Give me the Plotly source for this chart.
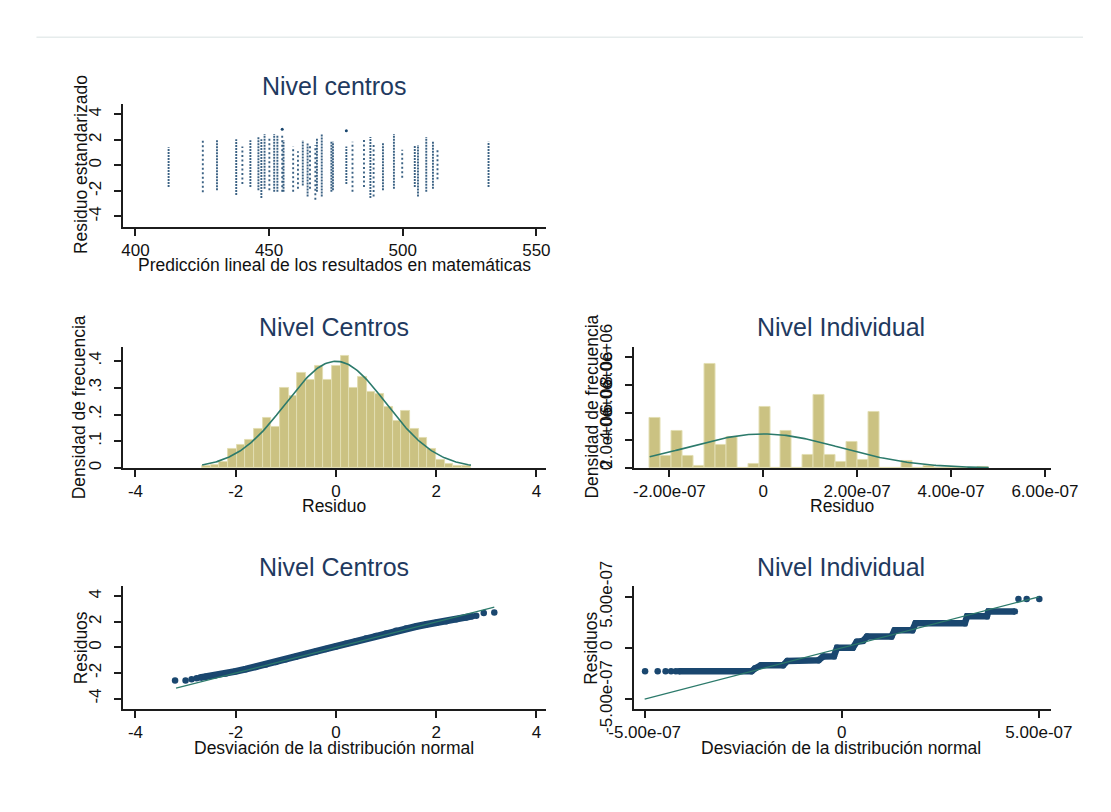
import math
import plotly.graph_objects as go

# ---------------- data ----------------
# Nivel centros: predicted math score of each school column and the span of its standardized residuals
dense_pred = [412.4, 430.5, 437.7, 443.0, 446.0, 447.1, 448.3, 451.9, 453.1, 455.4, 462.6, 464.4,
              467.9, 469.7, 473.3, 473.9, 478.9, 487.9, 492.6, 496.7, 504.5, 505.7, 508.8, 511.3, 532.1]
dense_lo = [-1.70, -1.95, -2.31, -1.70, -1.95, -2.55, -1.82, -2.07, -2.07, -2.07, -1.58, -2.43,
            -2.07, -2.43, -2.07, -1.95, -1.46, -2.55, -1.95, -1.82, -1.70, -2.43, -2.07, -1.82, -1.70]
dense_hi = [1.41, 2.04, 2.04, 1.97, 2.21, 2.04, 2.45, 2.45, 2.33, 1.97, 1.97, 1.72,
            2.09, 2.46, 1.85, 1.85, 1.48, 2.21, 1.72, 2.46, 1.60, 1.60, 2.21, 1.85, 1.85]
sparse_pred = [425.2, 440.0, 450.1, 454.9, 459.0, 460.8, 465.3, 467.3, 481.2, 485.5, 489.1, 499.8, 513.0]
sparse_lo = [-2.11, -1.46, -1.95, -2.07, -2.07, -1.82, -1.82, -2.68, -2.07, -1.70, -2.43, -0.97, -1.09]
sparse_hi = [2.04, 1.48, 2.21, 2.35, 1.48, 1.11, 1.60, 1.60, 1.85, 2.09, 1.60, 1.23, 1.36]
outlier_pred = [454.9, 478.9]
outlier_res = [2.83, 2.70]

# Nivel Centros: histogram of residuals (density per bin)
centros_bin_start = -2.67
centros_bin_width = 0.173
centros_density = [0.006, 0.012, 0.024, 0.071, 0.088, 0.106, 0.147, 0.189, 0.153, 0.301,
                   0.271, 0.354, 0.330, 0.383, 0.330, 0.383, 0.419, 0.301, 0.342, 0.283,
                   0.277, 0.230, 0.177, 0.212, 0.147, 0.112, 0.071, 0.030, 0.014, 0.006, 0.006]
centros_mean, centros_sd = 0.0, 1.0

# Nivel Individual: histogram of residuals (density per bin)
indiv_bin_start = -2.42e-7
indiv_bin_width = 2.33e-8
indiv_density = [3.59e6, 0.86e6, 2.68e6, 0.86e6, 0.18e6, 7.50e6, 1.66e6, 2.23e6, 0.0, 0.27e6,
                 4.39e6, 0.0, 2.68e6, 0.0, 0.98e6, 5.30e6, 0.98e6, 0.41e6, 1.89e6, 0.59e6,
                 4.05e6, 0.0, 0.0, 0.48e6, 0.0, 0.14e6, 0.0, 0.0, 0.0, 0.0, 0.07e6]
indiv_mean, indiv_sd = 0.0, 1.62e-7

# Nivel Centros: normal quantile plot
qq_c_tail_z = [-3.21, -3.00, -2.88, -2.78, 2.80, 2.95, 3.16]
qq_c_tail_res = [-2.58, -2.58, -2.48, -2.41, 2.48, 2.70, 2.73]
qq_c_z = [-2.71, -2.6, -2.4, -2.2, -2.0, -1.8, -1.6, -1.4, -1.2, -1.0, -0.8, -0.6, -0.4, -0.2,
          0.0, 0.2, 0.4, 0.6, 0.8, 1.0, 1.2, 1.4, 1.6, 1.8, 2.0, 2.2, 2.4, 2.6, 2.72]
qq_c_res = [-2.36, -2.30, -2.18, -2.03, -1.87, -1.70, -1.52, -1.34, -1.14, -0.93, -0.73, -0.52,
            -0.32, -0.12, 0.08, 0.29, 0.49, 0.70, 0.90, 1.10, 1.30, 1.48, 1.64, 1.80, 1.93,
            2.06, 2.20, 2.35, 2.45]
qq_c_ref = [-3.19, 3.16]

# Nivel Individual: normal quantile plot (values in units of 1e-7)
qq_i_tail_z = [-4.99, -4.67, -4.47, -4.33, -4.21, 4.48, 4.69, 5.01]
qq_i_tail_res = [-2.28, -2.28, -2.28, -2.28, -2.28, 4.78, 4.78, 4.78]
qq_i_z = [-4.13, -2.29, -2.20, -2.05, -1.49, -1.38, -0.59, -0.47, -0.20, -0.12, 0.28, 0.38,
          0.54, 0.64, 1.26, 1.34, 1.79, 1.87, 3.12, 3.18, 3.68, 3.72, 4.39]
qq_i_res = [-2.28, -2.28, -2.00, -1.70, -1.70, -1.27, -1.21, -0.84, -0.81, 0.02, 0.02, 0.60,
            0.69, 1.12, 1.12, 1.73, 1.73, 2.40, 2.40, 3.10, 3.10, 3.56, 3.56]
qq_i_ref = [-5.0, 5.0]
QQ_I_UNIT = 1e-7

# ---------------- styling ----------------
W, H = 1111, 812
FONT = "Liberation Sans, Arial, sans-serif"
NAVY = "#1a476f"
TEAL = "#2c7a6b"
KHAKI = "#cbc282"
KHAKI_EDGE = "#e2deb2"
AXIS = "#1c1c1c"
TITLE = "#1f3a60"


def px_x(p):
    return p / W


def px_y(p):
    return 1 - p / H


def normal_curve(mean, sd, lo, hi, n=200):
    xs = [lo + (hi - lo) * i / (n - 1) for i in range(n)]
    ys = [math.exp(-0.5 * ((x - mean) / sd) ** 2) / (sd * math.sqrt(2 * math.pi)) for x in xs]
    return xs, ys


def stripes(pred, lo, hi):
    xs, ys = [], []
    for p, a, b in zip(pred, lo, hi):
        xs += [p, p, None]
        ys += [a, b, None]
    return xs, ys


fig = go.Figure()

# top: residual columns per school
sx, sy = stripes(dense_pred, dense_lo, dense_hi)
fig.add_trace(go.Scatter(x=sx, y=sy, mode="lines", xaxis="x", yaxis="y",
                         line=dict(color=NAVY, width=1.9, dash="2px,1px"), opacity=0.85))
sx, sy = stripes(sparse_pred, sparse_lo, sparse_hi)
fig.add_trace(go.Scatter(x=sx, y=sy, mode="lines", xaxis="x", yaxis="y",
                         line=dict(color=NAVY, width=1.9, dash="2px,2.5px"), opacity=0.85))
fig.add_trace(go.Scatter(x=outlier_pred, y=outlier_res, mode="markers", xaxis="x", yaxis="y",
                         marker=dict(color=NAVY, size=3)))

# middle left: histogram + normal density
c_centers = [centros_bin_start + (i + 0.5) * centros_bin_width for i in range(len(centros_density))]
fig.add_trace(go.Bar(x=c_centers, y=centros_density, width=centros_bin_width, xaxis="x2", yaxis="y2",
                     marker=dict(color=KHAKI, line=dict(color=KHAKI_EDGE, width=1))))
c_end = centros_bin_start + centros_bin_width * len(centros_density)
nx, ny = normal_curve(centros_mean, centros_sd, centros_bin_start, c_end)
fig.add_trace(go.Scatter(x=nx, y=ny, mode="lines", xaxis="x2", yaxis="y2",
                         line=dict(color=TEAL, width=1.6)))

# middle right: histogram + normal density
i_centers = [indiv_bin_start + (i + 0.5) * indiv_bin_width for i in range(len(indiv_density))]
fig.add_trace(go.Bar(x=i_centers, y=indiv_density, width=indiv_bin_width, xaxis="x3", yaxis="y3",
                     marker=dict(color=KHAKI, line=dict(color=KHAKI_EDGE, width=1))))
i_end = indiv_bin_start + indiv_bin_width * len(indiv_density)
nx, ny = normal_curve(indiv_mean, indiv_sd, indiv_bin_start, i_end)
fig.add_trace(go.Scatter(x=nx, y=ny, mode="lines", xaxis="x3", yaxis="y3",
                         line=dict(color=TEAL, width=1.6)))

# bottom left: normal quantile plot
fig.add_trace(go.Scatter(x=qq_c_z, y=qq_c_res, mode="lines+markers", xaxis="x4", yaxis="y4",
                         line=dict(color=NAVY, width=7), marker=dict(color=NAVY, size=6.5)))
fig.add_trace(go.Scatter(x=qq_c_tail_z, y=qq_c_tail_res, mode="markers", xaxis="x4", yaxis="y4",
                         marker=dict(color=NAVY, size=6.5)))
fig.add_trace(go.Scatter(x=qq_c_ref, y=qq_c_ref, mode="lines", xaxis="x4", yaxis="y4",
                         line=dict(color=TEAL, width=1.3)))

# bottom right: normal quantile plot
fig.add_trace(go.Scatter(x=[v * QQ_I_UNIT for v in qq_i_z], y=[v * QQ_I_UNIT for v in qq_i_res],
                         mode="lines+markers", xaxis="x5", yaxis="y5",
                         line=dict(color=NAVY, width=6.5), marker=dict(color=NAVY, size=6.5)))
fig.add_trace(go.Scatter(x=[v * QQ_I_UNIT for v in qq_i_tail_z], y=[v * QQ_I_UNIT for v in qq_i_tail_res],
                         mode="markers", xaxis="x5", yaxis="y5", marker=dict(color=NAVY, size=6.5)))
fig.add_trace(go.Scatter(x=[v * QQ_I_UNIT for v in qq_i_ref], y=[v * QQ_I_UNIT for v in qq_i_ref],
                         mode="lines", xaxis="x5", yaxis="y5", line=dict(color=TEAL, width=1.3)))


def axis(domain, rng, vals, texts, anchor, vertical=False):
    return dict(domain=domain, range=rng, tickvals=vals, ticktext=texts, anchor=anchor,
                showline=True, linecolor=AXIS, linewidth=1.6, ticks="outside", ticklen=7,
                tickwidth=1.5, tickcolor=AXIS, showgrid=False, zeroline=False,
                tickangle=-90 if vertical else 0, ticklabelstandoff=6 if vertical else 0,
                tickfont=dict(family=FONT, size=17, color="#111111"), fixedrange=True)


LX = [px_x(103), px_x(547)]
RX = [px_x(639), px_x(1077)]
TOPY = [px_y(214), px_y(83)]
MIDY = [px_y(471), px_y(342)]
BOTY = [px_y(728), px_y(597)]

e7 = ["-2.00e-07", "0", "2.00e-07", "4.00e-07", "6.00e-07"]
e5 = ["-5.00e-07", "0", "5.00e-07"]

fig.update_layout(
    width=W, height=H, margin=dict(l=0, r=0, t=0, b=0),
    paper_bgcolor="white", plot_bgcolor="white", showlegend=False, bargap=0,
    xaxis=axis(LX, [395.37, 553.56], [400, 450, 500, 550], ["400", "450", "500", "550"], "y"),
    yaxis=axis(TOPY, [-4.807, 4.807], [-4, -2, 0, 2, 4], ["-4", "-2", "0", "2", "4"], "x", True),
    xaxis2=axis(LX, [-4.247, 4.190], [-4, -2, 0, 2, 4], ["-4", "-2", "0", "2", "4"], "y2"),
    yaxis2=axis(MIDY, [0, 0.4526], [0, 0.1, 0.2, 0.3, 0.4], ["0", ".1", ".2", ".3", ".4"], "x2", True),
    xaxis3=axis(RX, [-2.765e-7, 6.121e-7], [-2e-7, 0, 2e-7, 4e-7, 6e-7], e7, "y3"),
    yaxis3=axis(MIDY, [0, 8.75e6], [0, 2e6, 4e6, 6e6, 8e6],
                ["0", "2.0e+06", "4.0e+06", "6.0e+06", "8.0e+06"], "x3", True),
    xaxis4=axis(LX, [-4.247, 4.190], [-4, -2, 0, 2, 4], ["-4", "-2", "0", "2", "4"], "y4"),
    yaxis4=axis(BOTY, [-4.83, 4.79], [-4, -2, 0, 2, 4], ["-4", "-2", "0", "2", "4"], "x4", True),
    xaxis5=axis(RX, [-5.283e-7, 5.297e-7], [-5e-7, 0, 5e-7], e5, "y5"),
    yaxis5=axis(BOTY, [-5.99e-7, 6.03e-7], [-5e-7, 0, 5e-7], e5, "x5", True),
)

# faint rule across the top of the page
fig.add_shape(type="line", xref="paper", yref="paper", x0=px_x(12), x1=1, y0=px_y(12), y1=px_y(12),
              line=dict(color="#e6ecec", width=1.5))


def label(text, x, y, size, color="#111111", angle=0):
    fig.add_annotation(text=text, xref="paper", yref="paper", x=px_x(x), y=px_y(y),
                       xanchor="center", yanchor="middle", showarrow=False, textangle=angle,
                       font=dict(family=FONT, size=size, color=color))


# panel titles
label("Nivel centros", 325, 64, 25, TITLE)
label("Nivel Centros", 325, 321, 25, TITLE)
label("Nivel Individual", 857, 321, 25, TITLE)
label("Nivel Centros", 325, 577, 25, TITLE)
label("Nivel Individual", 857, 577, 25, TITLE)

# axis titles
label("Predicción lineal de los resultados en matemáticas", 325, 255, 17.5)
label("Residuo estandarizado", 59, 148, 17.5, angle=-90)
label("Residuo", 325, 511, 17.5)
label("Densidad de frecuencia", 57, 406, 17.5, angle=-90)
label("Residuo", 858, 511, 17.5)
label("Densidad de frecuencia", 595, 406, 17.5, angle=-90)
label("Desviación de la distribución normal", 325, 769, 17.5)
label("Residuos", 59, 663, 17.5, angle=-90)
label("Desviación de la distribución normal", 857, 769, 17.5)
label("Residuos", 595, 663, 17.5, angle=-90)

fig.write_html("out.html")
